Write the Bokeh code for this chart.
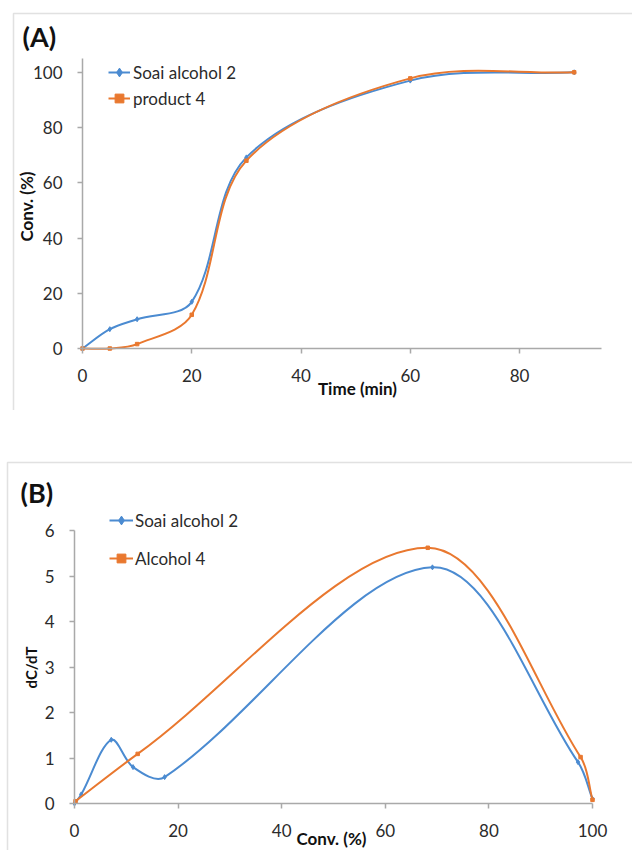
import numpy as np
from bokeh.plotting import figure
from bokeh.models import Range1d, FixedTicker, Legend, LegendItem, Label, BoxAnnotation
from bokeh.layouts import column
from bokeh.embed import file_html
from bokeh.resources import INLINE

# ---------------- data: panel (A) conversion vs time ----------------
time_min = [0, 5, 10, 20, 30, 60, 90]
soai_conv = [0, 7.0, 10.6, 16.9, 69.2, 97.0, 100]
product4_conv = [0, 0, 1.6, 12.2, 68.0, 97.8, 100]
a_xticks = [0, 20, 40, 60, 80]
a_yticks = [0, 20, 40, 60, 80, 100]

# ---------------- data: panel (B) rate vs conversion ----------------
soai_b_conv = [0, 1.3, 7.1, 11.3, 17.4, 69.1, 97.2, 100]
soai_b_rate = [0, 0.20, 1.40, 0.80, 0.58, 5.19, 0.91, 0.10]
alc4_b_conv = [0.2, 12.2, 68.2, 97.7, 100]
alc4_b_rate = [0.05, 1.09, 5.62, 1.02, 0.08]
b_xticks = [0, 20, 40, 60, 80, 100]
b_yticks = [0, 1, 2, 3, 4, 5, 6]

BLUE = "#4b8bd1"
ORANGE = "#e9782f"
AXIS = "#a9a9a9"
TXT = "#2b2b2b"
FONT = "Lato"
W = 632


class Panel:
    """Pixel geometry of one panel: where the axes lie on its canvas."""

    def __init__(self, height, ax_left, ax_right, ax_top, ax_bottom, xmax, ymax):
        self.h = height
        self.sx = (ax_right - ax_left) / xmax
        self.sy = (ax_bottom - ax_top) / ymax
        self.ax_left, self.ax_bottom = ax_left, ax_bottom
        self.xmax, self.ymax = xmax, ymax
        self.xr = (-ax_left / self.sx, (W - ax_left) / self.sx)
        self.yr = (-(height - ax_bottom) / self.sy, ax_bottom / self.sy)

    def data(self, px, py):
        return (px - self.ax_left) / self.sx, (self.ax_bottom - py) / self.sy


def smooth(xs, ys, g):
    """Excel-like smoothed line as cubic Bezier segments (chord-length weighted tangents)."""
    x = np.asarray(xs, float)
    y = np.asarray(ys, float)
    xp = np.concatenate([[x[0]], x, [x[-1]]])
    yp = np.concatenate([[y[0]], y, [y[-1]]])
    d = np.hypot(np.diff(xp) * g.sx, np.diff(yp) * g.sy)  # pixel lengths
    n = len(x)
    x0, y0, x1, y1, cx0, cy0, cx1, cy1 = ([] for _ in range(8))
    for i in range(n - 1):
        d01, d12, d23 = d[i], d[i + 1], d[i + 2]
        f1 = d12 / (d01 + d12) / 3 if (d01 + d12) > 0 else 0
        f2 = d12 / (d12 + d23) / 3 if (d12 + d23) > 0 else 0
        x0.append(xp[i + 1]); y0.append(yp[i + 1])
        x1.append(xp[i + 2]); y1.append(yp[i + 2])
        cx0.append(xp[i + 1] + (xp[i + 2] - xp[i]) * f1)
        cy0.append(yp[i + 1] + (yp[i + 2] - yp[i]) * f1)
        cx1.append(xp[i + 2] - (xp[i + 3] - xp[i + 1]) * f2)
        cy1.append(yp[i + 2] - (yp[i + 3] - yp[i + 1]) * f2)
    return dict(x0=x0, y0=y0, x1=x1, y1=y1, cx0=cx0, cy0=cy0, cx1=cx1, cy1=cy1)


def make_fig(g, xticks, yticks):
    p = figure(width=W, height=g.h, x_range=Range1d(*g.xr), y_range=Range1d(*g.yr),
               output_backend="svg", toolbar_location=None,
               min_border=0, min_border_left=0, min_border_right=0,
               min_border_top=0, min_border_bottom=0)
    p.xgrid.visible = False
    p.ygrid.visible = False
    p.outline_line_color = None
    p.background_fill_color = "white"
    p.border_fill_color = "white"
    p.xaxis.ticker = FixedTicker(ticks=xticks)
    p.yaxis.ticker = FixedTicker(ticks=yticks)
    p.xaxis[0].fixed_location = 0
    p.yaxis[0].fixed_location = 0
    p.xaxis[0].bounds = (0, g.xmax)
    p.yaxis[0].bounds = (0, g.ymax)
    for ax in (p.xaxis[0], p.yaxis[0]):
        ax.axis_line_color = AXIS
        ax.axis_line_width = 1.5
        ax.major_tick_line_color = AXIS
        ax.major_tick_line_width = 1.5
        ax.major_tick_out = 5
        ax.major_tick_in = 0
        ax.minor_tick_line_color = None
        ax.major_label_text_font = FONT
        ax.major_label_text_font_size = "17px"
        ax.major_label_text_color = TXT
        ax.major_label_standoff = 15
    return p


def add_text(p, g, px, py, text, size, angle=0.0, align="center"):
    x, y = g.data(px, py)
    p.add_layout(Label(x=x, y=y, text=text, text_font=FONT, text_font_style="bold",
                       text_font_size=size, text_color="#111111", text_align=align,
                       text_baseline="middle", angle=angle))


def add_border(p, g, px_left, py_top):
    l, t = g.data(px_left, py_top)
    r, b = g.data(W + 50, g.h + 50)
    p.add_layout(BoxAnnotation(left=l, right=r, top=t, bottom=b, fill_alpha=0,
                               line_color="#9c9c9c", line_width=1.5))


def series(p, g, xs, ys, color, marker, size):
    r_line = p.bezier(line_color=color, line_width=2, **smooth(xs, ys, g))
    r_pts = p.scatter(xs, ys, marker=marker, size=size, color=color)
    return [r_line, r_pts]


def legend(items, px_left, py_bottom, g, spacing, glyph_width, standoff):
    return Legend(items=items, location=(px_left, g.h - py_bottom),
                  border_line_color=None, background_fill_alpha=0,
                  padding=0, margin=0, spacing=spacing, glyph_width=glyph_width,
                  glyph_height=22, label_height=22, label_standoff=standoff,
                  label_text_font=FONT, label_text_font_size="17px",
                  label_text_color=TXT)


# ---------------- panel A ----------------
GA = Panel(410, ax_left=82, ax_right=601, ax_top=58, ax_bottom=348, xmax=95, ymax=105)
pa = make_fig(GA, a_xticks, a_yticks)
add_border(pa, GA, 13, 13)
ra1 = series(pa, GA, time_min, soai_conv, BLUE, "diamond", 5)
ra2 = series(pa, GA, time_min, product4_conv, ORANGE, "square", 3.5)
pa.add_layout(legend([LegendItem(label="Soai alcohol 2", renderers=ra1),
                      LegendItem(label="product 4", renderers=ra2)],
                     108, 109, GA, 4, 22, 3))
add_text(pa, GA, 22, 36, "(A)", "27px", align="left")
add_text(pa, GA, 26, 206, "Conv. (%)", "17px", angle=np.pi / 2)
add_text(pa, GA, 357, 388, "Time (min)", "17px")

# ---------------- panel B ----------------
GB = Panel(440, ax_left=74, ax_right=592, ax_top=120, ax_bottom=393, xmax=100, ymax=6)
pb = make_fig(GB, b_xticks, b_yticks)
add_border(pb, GB, 7, 52)
rb1 = series(pb, GB, soai_b_conv, soai_b_rate, BLUE, "diamond", 5)
rb2 = series(pb, GB, alc4_b_conv, alc4_b_rate, ORANGE, "square", 3.5)
pb.add_layout(legend([LegendItem(label="Soai alcohol 2", renderers=rb1),
                      LegendItem(label="Alcohol 4", renderers=rb2)],
                     109, 159, GB, 16, 24, 2))
add_text(pb, GB, 20, 82, "(B)", "27px", align="left")
add_text(pb, GB, 30, 257, "dC/dT", "15px", angle=np.pi / 2)
add_text(pb, GB, 331, 428, "Conv. (%)", "17px")

layout = column(pa, pb, spacing=0)
open("out.html", "w").write(file_html(layout, INLINE))
